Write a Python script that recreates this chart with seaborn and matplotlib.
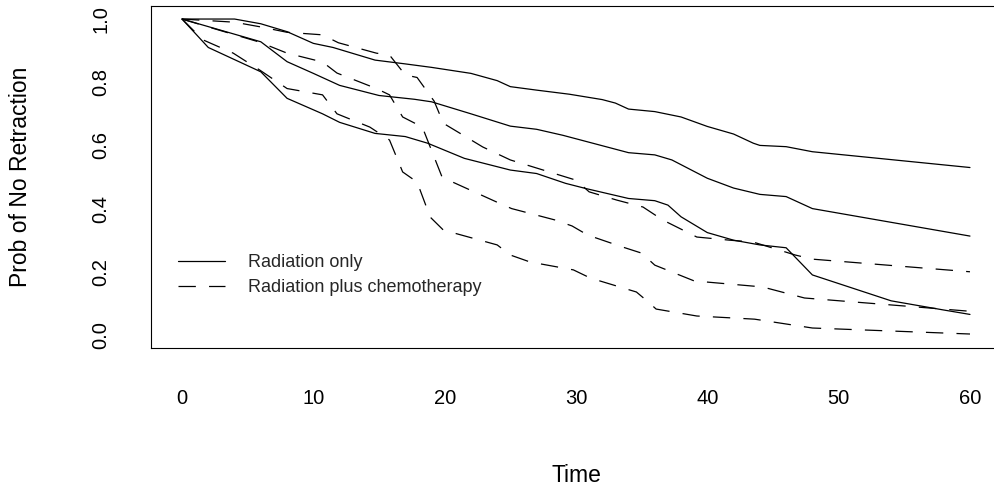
import pandas as pd
import matplotlib
matplotlib.use("Agg")
import matplotlib.pyplot as plt
import seaborn as sns
from matplotlib.lines import Line2D

# values (survival estimate and its bounds per group)
rad_upper_t = [0, 4, 6, 8, 10, 11.5, 14.7, 17, 19, 22, 24, 25, 27, 29.5, 32, 33, 34, 36, 38, 40, 42, 43.5, 44, 46, 48, 60]
rad_upper_p = [1.0, 1.0, 0.985, 0.96, 0.923, 0.91, 0.87, 0.858, 0.847, 0.828, 0.805, 0.786, 0.775, 0.762, 0.745,
               0.734, 0.715, 0.707, 0.69, 0.66, 0.636, 0.607, 0.60, 0.596, 0.58, 0.53]

rad_est_t = [0, 6, 8, 10, 12, 15, 17.7, 19, 22, 25, 27, 29, 31, 34, 36, 37.3, 40, 42, 44, 46, 48, 60]
rad_est_p = [1.0, 0.928, 0.865, 0.828, 0.79, 0.758, 0.746, 0.738, 0.70, 0.661, 0.651, 0.632, 0.61, 0.577, 0.57,
             0.554, 0.496, 0.465, 0.445, 0.438, 0.40, 0.313]

rad_lower_t = [0, 2, 6, 8, 10.7, 12, 14.7, 17, 18.7, 21.5, 25, 27, 29.2, 30.7, 34, 36, 37, 38, 40, 42, 44, 46, 48,
               54, 58, 60]
rad_lower_p = [1.0, 0.91, 0.833, 0.749, 0.70, 0.673, 0.638, 0.628, 0.607, 0.559, 0.522, 0.511, 0.48, 0.464, 0.432,
               0.425, 0.411, 0.374, 0.324, 0.30, 0.285, 0.276, 0.19, 0.108, 0.079, 0.065]

chemo_upper_t = [0, 4, 6, 8, 10.7, 11.9, 14.8, 15.8, 17, 17.9, 19.2, 19.9, 22.9, 25, 30, 31, 33.1, 35.1, 36.6, 39.2,
                 41.7, 43.5, 46.7, 48, 60]
chemo_upper_p = [1.0, 0.99, 0.975, 0.958, 0.95, 0.925, 0.892, 0.886, 0.823, 0.815, 0.74, 0.67, 0.595, 0.554, 0.49,
                 0.453, 0.427, 0.405, 0.364, 0.31, 0.30, 0.294, 0.253, 0.24, 0.20]

chemo_est_t = [0, 2, 5.9, 8, 10.7, 11.8, 14.8, 15.8, 16.8, 18.3, 19.8, 20.6, 24, 25.1, 28.4, 29.7, 30.9, 33.5, 35,
               36, 39, 44.2, 47.4, 60]
chemo_est_p = [1.0, 0.975, 0.927, 0.892, 0.864, 0.829, 0.78, 0.76, 0.69, 0.658, 0.50, 0.484, 0.42, 0.40, 0.364,
               0.345, 0.316, 0.279, 0.259, 0.221, 0.171, 0.152, 0.117, 0.075]

chemo_lower_t = [0, 1.6, 3.9, 5.9, 8, 10.7, 11.8, 14.3, 15.8, 16.8, 17.9, 18.9, 19.9, 24, 25, 26.5, 29.8, 31.1,
                 34.6, 35.6, 36.1, 39.2, 43.6, 48, 60]
chemo_lower_p = [1.0, 0.934, 0.892, 0.839, 0.78, 0.76, 0.70, 0.658, 0.617, 0.516, 0.484, 0.373, 0.332, 0.285, 0.253,
                 0.231, 0.206, 0.18, 0.136, 0.101, 0.082, 0.06, 0.05, 0.022, 0.003]

groups = ["Radiation only", "Radiation plus chemotherapy"]
x_ticks = [0, 10, 20, 30, 40, 50, 60]
y_ticks = [0.0, 0.2, 0.4, 0.6, 0.8, 1.0]

curves = [
    ("rad_upper", groups[0], rad_upper_t, rad_upper_p),
    ("rad_est", groups[0], rad_est_t, rad_est_p),
    ("rad_lower", groups[0], rad_lower_t, rad_lower_p),
    ("chemo_upper", groups[1], chemo_upper_t, chemo_upper_p),
    ("chemo_est", groups[1], chemo_est_t, chemo_est_p),
    ("chemo_lower", groups[1], chemo_lower_t, chemo_lower_p),
]
df = pd.concat([pd.DataFrame({"curve": c, "group": g, "time": t, "prob": p}) for c, g, t, p in curves],
               ignore_index=True)

sns.set_theme(style="white")
plt.rcParams["font.family"] = ["Liberation Sans", "DejaVu Sans"]
plt.rcParams["lines.scale_dashes"] = False

W, H = 994, 488
fig = plt.figure(figsize=(W / 100, H / 100), dpi=100)
# box runs past the right edge of the picture, as in the reference
ax = fig.add_axes([150.5 / W, (H - 347.6) / H, 851 / W, 341.2 / H])

dash = (12.5, 9.5)
sns.lineplot(data=df, x="time", y="prob", units="curve", style="group",
             dashes={groups[0]: "", groups[1]: dash}, color="black", linewidth=0.9,
             estimator=None, legend=False, ax=ax)

ax.set_xlim(-2.4, 62.4)
ax.set_ylim(-0.04, 1.04)
ax.set_xticks(x_ticks)
ax.set_xticklabels([str(v) for v in x_ticks])
ax.set_yticks(y_ticks)
ax.set_yticklabels([f"{v:.1f}" for v in y_ticks], rotation=90, va="center")

ax.tick_params(direction="out", length=5, width=0.8, color="black", labelsize=14.5, labelcolor="black")
ax.tick_params(axis="x", pad=25)
ax.tick_params(axis="y", pad=24)
for s in ax.spines.values():
    s.set_color("black")
    s.set_linewidth(0.8)

ax.set_xlabel("Time", fontsize=16.5, color="black")
ax.set_ylabel("Prob of No Retraction", fontsize=16.5, color="black")
ax.xaxis.label.set_va("center")
ax.yaxis.label.set_va("center")
ax.xaxis.set_label_coords(0.5, (347.6 - 476) / 341.2)
ax.yaxis.set_label_coords((20.5 - 150.5) / 851, 0.5)

handles = [Line2D([], [], color="black", lw=0.9),
           Line2D([], [], color="black", lw=0.9, dashes=dash)]
ax.legend(handles, groups, loc="upper left", bbox_to_anchor=(178 / W, 1 - 254 / H),
          bbox_transform=fig.transFigure, frameon=False, borderpad=0, borderaxespad=0,
          handlelength=2.6, handletextpad=1.3, labelspacing=0.45, fontsize=13)

fig.savefig("out.png", dpi=100)
